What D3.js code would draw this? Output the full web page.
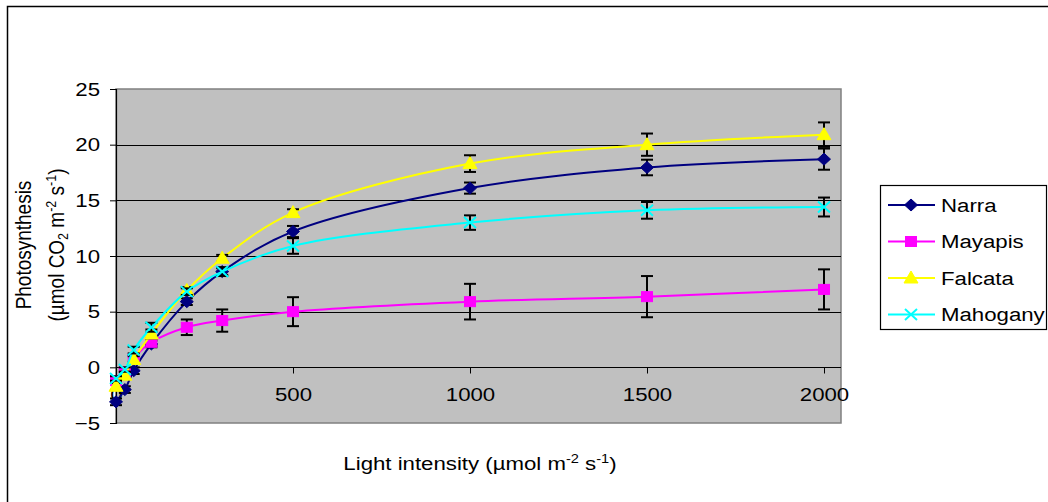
<!DOCTYPE html>
<html><head><meta charset="utf-8">
<script src="https://cdn.jsdelivr.net/npm/d3@7/dist/d3.min.js"></script>
<style>body{margin:0;background:#fff}svg{display:block;font-family:"Liberation Sans",Arial,sans-serif}</style>
</head><body><svg id="c" width="1048" height="502"></svg>
<script>
const lightX = [0, 25, 50, 100, 200, 300, 500, 1000, 1500, 2000];
const seriesNames = ["Narra", "Mayapis", "Falcata", "Mahogany"];
const narra = [-3.1, -2.0, -0.3, 2.1, 5.9, 8.6, 12.2, 16.1, 17.95, 18.7];
const mayapis = [-1.2, -0.4, 0.8, 2.25, 3.6, 4.2, 5.0, 5.9, 6.35, 7.0];
const falcata = [-1.7, -0.7, 0.7, 3.0, 6.9, 9.8, 13.9, 18.3, 20.0, 20.9];
const mahogany = [-1.0, -0.2, 1.55, 3.6, 6.8, 8.6, 10.9, 13.0, 14.1, 14.4];
const narraErr = [0.3, 0.3, 0.3, 0.3, 0.3, 0.3, 0.5, 0.5, 0.7, 0.95];
const mayapisErr = [0.3, 0.3, 0.3, 0.3, 0.7, 1.0, 1.3, 1.6, 1.85, 1.8];
const falcataErr = [0.3, 0.3, 0.3, 0.4, 0.3, 0.3, 0.3, 0.75, 1.0, 1.1];
const mahoganyErr = [0.2, 0.2, 0.3, 0.4, 0.3, 0.4, 0.7, 0.65, 0.75, 0.85];
const xTicks = [0, 500, 1000, 1500, 2000];
const yTicks = [-5, 0, 5, 10, 15, 20, 25];

const colors = ["#000080", "#FF00FF", "#FFFF00", "#00FFFF"];
const markers = ["diamond", "square", "triangle", "x"];
const values = [narra, mayapis, falcata, mahogany];
const errs = [narraErr, mayapisErr, falcataErr, mahoganyErr];

const svg = d3.select("#c");
const L = 116, R = 841, T = 89, B = 423;
const x = d3.scaleLinear().domain([0, 2048]).range([L, R]);
const y = d3.scaleLinear().domain([-5, 25]).range([B, T]);
const FS = 19, SX = 1.17, SUB = 12.5;

function stretch(sel) {
  sel.each(function () {
    const t = d3.select(this);
    const ax = +t.attr("x") || 0;
    t.attr("transform", `translate(${ax * (1 - SX)},0) scale(${SX},1)`);
  });
}

// outer chart border
svg.append("rect").attr("x", 7.5).attr("y", 6.5).attr("width", 1045).attr("height", 510)
  .attr("fill", "#fff").attr("stroke", "#000").attr("stroke-width", 1.5);

// plot area
svg.append("rect").attr("x", L).attr("y", T).attr("width", R - L).attr("height", B - T)
  .attr("fill", "#C0C0C0").attr("stroke", "#808080").attr("stroke-width", 1.5);

// gridlines
svg.append("g").selectAll("line").data(yTicks.filter(t => t > -5 && t < 25)).join("line")
  .attr("x1", L).attr("x2", R).attr("y1", d => Math.round(y(d)) + 0.5).attr("y2", d => Math.round(y(d)) + 0.5)
  .attr("stroke", "#000").attr("stroke-width", 1);

// y axis
const yAxis = svg.append("g").attr("transform", `translate(${L},0)`)
  .call(d3.axisLeft(y).tickValues(yTicks).tickSize(6).tickPadding(10).tickFormat(d3.format("d")));
yAxis.select(".domain").attr("stroke", "#000").attr("stroke-width", 1.2);
yAxis.selectAll(".tick line").attr("stroke", "#000");
yAxis.selectAll("text").attr("font-size", FS).attr("font-family", "Liberation Sans, Arial").attr("fill", "#000").call(stretch);

// x axis at y = 0
const xAxis = svg.append("g").attr("transform", `translate(0,${Math.round(y(0)) + 0.5})`)
  .call(d3.axisBottom(x).tickValues(xTicks).tickSize(6).tickPadding(14).tickFormat(d3.format("d")));
xAxis.select(".domain").remove();
xAxis.selectAll(".tick line").attr("stroke", "#000");
xAxis.selectAll("text").attr("font-size", FS).attr("font-family", "Liberation Sans, Arial").attr("fill", "#000").call(stretch);

function drawMarker(g, type, color, cx, cy) {
  if (type === "diamond") {
    g.append("path").attr("d", `M${cx},${cy-6}L${cx+6.5},${cy}L${cx},${cy+6}L${cx-6.5},${cy}Z`)
      .attr("fill", color).attr("stroke", color);
  } else if (type === "square") {
    g.append("rect").attr("x", cx - 5.5).attr("y", cy - 5).attr("width", 11).attr("height", 10)
      .attr("fill", color).attr("stroke", color);
  } else if (type === "triangle") {
    g.append("path").attr("d", `M${cx},${cy-7}L${cx+7},${cy+5}L${cx-7},${cy+5}Z`)
      .attr("fill", color).attr("stroke", color);
  } else {
    g.append("path").attr("d", `M${cx-6},${cy-5.5}L${cx+6},${cy+5.5}M${cx-6},${cy+5.5}L${cx+6},${cy-5.5}`)
      .attr("stroke", color).attr("stroke-width", 2).attr("fill", "none");
  }
}

const line = d3.line().x(d => x(d[0])).y(d => y(d[1])).curve(d3.curveCatmullRom.alpha(0.5));
const plot = svg.append("g");
values.forEach((vals, i) => {
  const pts = lightX.map((xv, j) => [xv, vals[j]]);
  plot.append("path").attr("d", line(pts)).attr("fill", "none").attr("stroke", colors[i]).attr("stroke-width", 2);
  const eg = plot.append("g").attr("stroke", "#000").attr("stroke-width", 2);
  pts.forEach((p, j) => {
    const cx = x(p[0]), e = errs[i][j];
    const y1 = y(p[1] + e), y2 = y(p[1] - e);
    eg.append("line").attr("x1", cx).attr("x2", cx).attr("y1", y1).attr("y2", y2);
    eg.append("line").attr("x1", cx - 6).attr("x2", cx + 6).attr("y1", y1).attr("y2", y1);
    eg.append("line").attr("x1", cx - 6).attr("x2", cx + 6).attr("y1", y2).attr("y2", y2);
  });
  const mg = plot.append("g");
  pts.forEach(p => drawMarker(mg, markers[i], colors[i], x(p[0]), y(p[1])));
});

// y-axis title (two rotated lines)
const yt = svg.append("text").attr("transform", `translate(31,245) rotate(-90) scale(1,${SX})`)
  .attr("text-anchor", "middle").attr("font-size", FS).attr("fill", "#000").text("Photosynthesis");
const y2 = svg.append("text").attr("transform", `translate(64,245) rotate(-90) scale(1,${SX})`)
  .attr("text-anchor", "middle").attr("font-size", FS).attr("fill", "#000");
y2.append("tspan").text("(µmol CO");
y2.append("tspan").attr("font-size", SUB).attr("dy", 3).text("2");
y2.append("tspan").attr("dy", -3).text(" m");
y2.append("tspan").attr("font-size", SUB).attr("dy", -7).text("-2");
y2.append("tspan").attr("dy", 7).text(" s");
y2.append("tspan").attr("font-size", SUB).attr("dy", -7).text("-1");
y2.append("tspan").attr("dy", 7).text(")");

// x-axis title
const xt = svg.append("text").attr("x", 480).attr("y", 470).attr("text-anchor", "middle")
  .attr("font-size", FS).attr("fill", "#000");
xt.append("tspan").text("Light intensity (µmol m");
xt.append("tspan").attr("font-size", SUB).attr("dy", -7).text("-2");
xt.append("tspan").attr("dy", 7).text(" s");
xt.append("tspan").attr("font-size", SUB).attr("dy", -7).text("-1");
xt.append("tspan").attr("dy", 7).text(")");
stretch(xt);

// legend
const lg = svg.append("g");
lg.append("rect").attr("x", 880.5).attr("y", 185.5).attr("width", 166).attr("height", 144)
  .attr("fill", "#fff").attr("stroke", "#000").attr("stroke-width", 1.2);
const rowY = [205, 241.5, 278, 314.5];
seriesNames.forEach((n, i) => {
  const ry = rowY[i];
  lg.append("line").attr("x1", 888).attr("x2", 935).attr("y1", ry).attr("y2", ry)
    .attr("stroke", colors[i]).attr("stroke-width", 2);
  drawMarker(lg, markers[i], colors[i], 911, ry);
  lg.append("text").attr("x", 941).attr("y", ry + 7).attr("font-size", FS).attr("fill", "#000").text(n).call(stretch);
});
</script></body></html>
